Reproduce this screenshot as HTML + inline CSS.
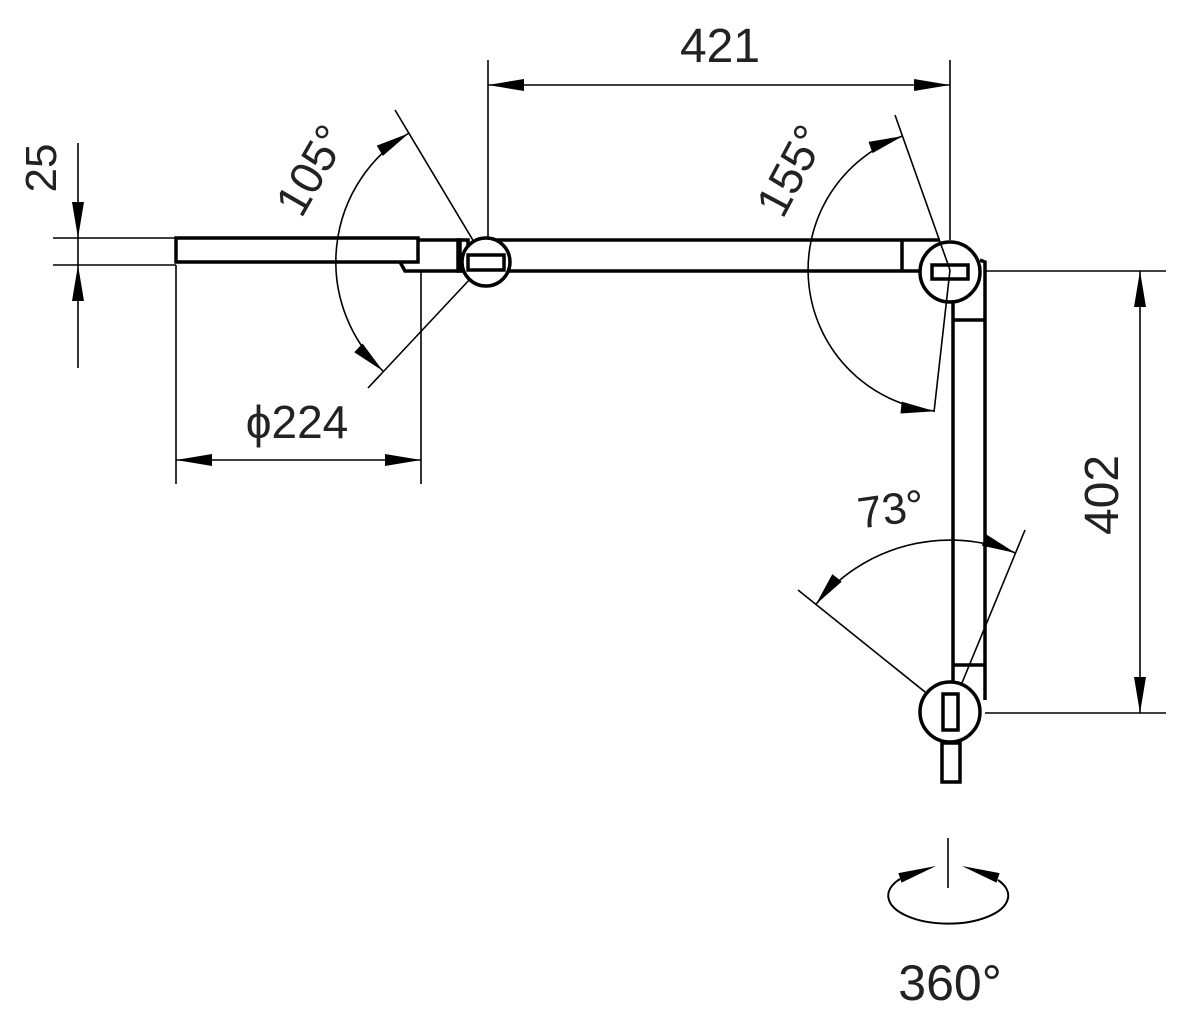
<!DOCTYPE html>
<html><head><meta charset="utf-8"><style>
html,body{margin:0;padding:0;background:#fff;}
svg{display:block}
text{font-family:"Liberation Sans",sans-serif;fill:#222;}
</style></head><body>
<svg id="s" width="1181" height="1028" viewBox="0 0 1181 1028" xmlns="http://www.w3.org/2000/svg">
<g fill="none" stroke="#000" stroke-width="1.6">
<line x1="488" y1="60" x2="488" y2="240"/>
<line x1="950" y1="60" x2="950" y2="240"/>
<line x1="488" y1="85" x2="950" y2="85"/>
<line x1="985" y1="271" x2="1166" y2="271"/>
<line x1="985" y1="713" x2="1166" y2="713"/>
<line x1="1140" y1="271" x2="1140" y2="713"/>
<line x1="53" y1="238" x2="176" y2="238"/>
<line x1="53" y1="265" x2="176" y2="265"/>
<line x1="78" y1="143" x2="78" y2="368"/>
<line x1="176" y1="265" x2="176" y2="484"/>
<line x1="421" y1="272" x2="421" y2="484"/>
<line x1="176" y1="460" x2="421" y2="460"/>
<line x1="395" y1="110" x2="486" y2="262"/>
<line x1="368" y1="388" x2="486" y2="262"/>
<line x1="895" y1="115" x2="950" y2="270"/>
<line x1="934" y1="412" x2="950" y2="270"/>
<line x1="798" y1="590" x2="950" y2="712"/>
<line x1="1025" y1="530" x2="950" y2="712"/>
<path d="M409,133 A150,150 0 0 0 383,371"/>
<path d="M902.6,136 A142,142 0 0 0 934.8,411"/>
<path d="M815.8,604.5 A172,172 0 0 1 1015.5,553"/>
<line x1="948" y1="838" x2="948" y2="888"/>
<path d="M900,879 A60,28 0 1 0 998,880" stroke-width="2"/>
</g>
<g fill="none" stroke="#000" stroke-width="3.5">
<path d="M176,238 H418 V262 H176 Z"/>
<path d="M418,240 H460 V271 H420"/>
<path d="M400,262 L405,271 H420"/>
<rect x="458" y="240" width="10" height="31"/>
<line x1="488" y1="240" x2="940" y2="240"/>
<line x1="508" y1="271" x2="920" y2="271"/>
<line x1="902" y1="240" x2="902" y2="271"/>
<circle cx="486" cy="262" r="24" fill="#fff"/>
<rect x="468" y="255" width="36" height="15"/>
<circle cx="950" cy="272" r="30" fill="none"/>
<rect x="932" y="265" width="36" height="14"/>
<path d="M980,260 L985,262 V700"/>
<line x1="953" y1="300" x2="953" y2="684"/>
<line x1="953" y1="320" x2="985" y2="320"/>
<line x1="953" y1="665" x2="985" y2="665"/>
<circle cx="950" cy="712" r="30" fill="#fff"/>
<rect x="943" y="694" width="15" height="36"/>
<rect x="942" y="743" width="18" height="39"/>
</g>
<g id="arr" fill="#000"></g>
<text x="720" y="62" font-size="48" text-anchor="middle">421</text>
<text transform="translate(1118,495) rotate(-90)" font-size="48" text-anchor="middle">402</text>
<text transform="translate(56,168) rotate(-90)" font-size="44" text-anchor="middle">25</text>
<text x="297" y="438" font-size="46" text-anchor="middle">ϕ224</text>
<text transform="translate(325,178) rotate(-60)" font-size="46" text-anchor="middle">105°</text>
<text transform="translate(805,178) rotate(-62)" font-size="46" text-anchor="middle">155°</text>
<text transform="translate(893,524) rotate(-8)" font-size="44" text-anchor="middle">73°</text>
<text x="950" y="1000" font-size="50" text-anchor="middle">360°</text>
</svg>
<script>
var g=document.getElementById('arr');
function arrow(tx,ty,dx,dy,len,w){len=len||36;w=w||6;var l=Math.hypot(dx,dy);dx/=l;dy/=l;
var bx=tx-dx*len,by=ty-dy*len,px=-dy*w,py=dx*w;
var p=document.createElementNS('http://www.w3.org/2000/svg','polygon');
p.setAttribute('points',tx+','+ty+' '+(bx+px)+','+(by+py)+' '+(bx-px)+','+(by-py));g.appendChild(p);}
arrow(488,85,-1,0);arrow(950,85,1,0);
arrow(1140,271,0,-1);arrow(1140,713,0,1);
arrow(78,238,0,1);arrow(78,265,0,-1);
arrow(176,460,-1,0);arrow(421,460,1,0);
function arcArrow(cx,cy,r,a,sign){var t=a*Math.PI/180;var x=cx+r*Math.cos(t),y=cy+r*Math.sin(t);
arrow(x,y,-Math.sin(t)*sign,Math.cos(t)*sign,34,6);}
arcArrow(486,262,150,-120.9,1);arcArrow(486,262,150,133.3,-1);
arcArrow(950,270,142,-109.5,1);arcArrow(950,270,142,96.1,-1);
arcArrow(950,712,172,-141.3,-1);arcArrow(950,712,172,-67.6,1);
arrow(936,866,1,-0.33,38,5);arrow(962,866,-1,-0.33,38,5);
</script>
</body></html>
